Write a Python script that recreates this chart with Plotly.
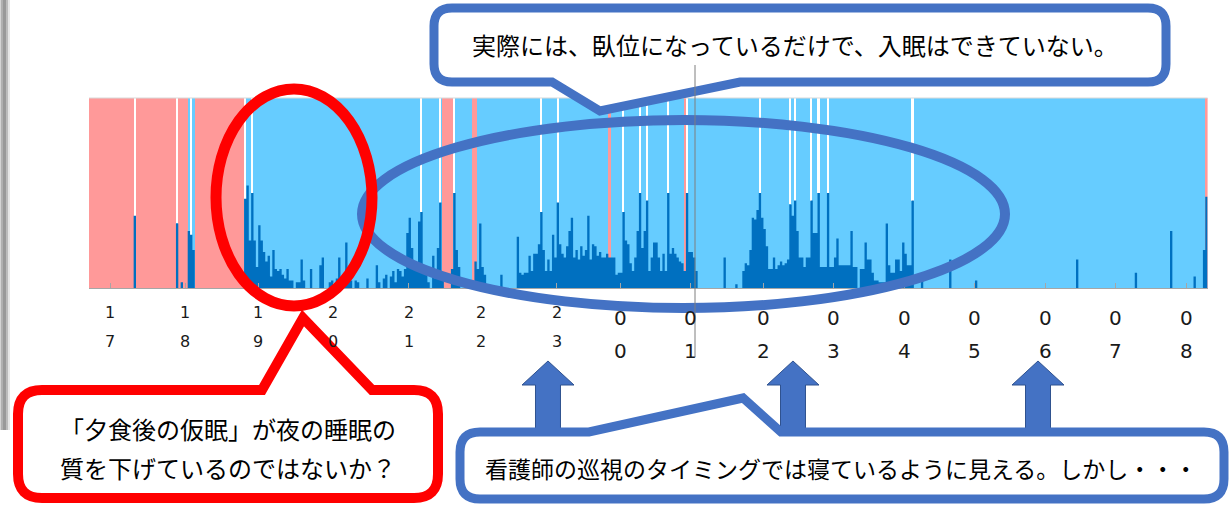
import plotly.graph_objects as go

W, H = 1229, 505
PLOT_L, PLOT_R, PLOT_T, PLOT_B = 89, 1207.6, 98, 288

PINK = "#FF9999"
BLUE = "#66CCFF"
DARK = "#0070C0"
CALL_BLUE = "#4472C4"
RED = "#FF0000"

hour_labels = ["17", "18", "19", "20", "21", "22", "23",
               "00", "01", "02", "03", "04", "05", "06", "07", "08"]

# activity per record (0-100 scale), one block per hour on the axis
act_pre = [0, 0, 0, 0, 0, 0, 0, 0, 0]
act_17 = [0, 0, 0, 0, 0, 0, 0, 0, 0, 0,
          38, 0, 0, 0, 0, 0, 0, 0, 0, 0,
          0, 0, 0, 0, 0, 0, 0, 0, 34, 0,
          3, 0]
act_18 = [0, 30, 28, 20, 0, 0, 0, 0, 0, 0,
          0, 0, 0, 0, 0, 0, 0, 0, 0, 0,
          0, 0, 0, 0, 0, 47, 54, 25, 50, 25,
          11]
act_19 = [33, 25, 19, 14, 17, 6, 20, 10, 9, 10,
          7, 5, 10, 4, 4, 0, 3, 3, 15, 4,
          0, 0, 10, 0, 0, 0, 12, 16, 0, 0,
          3, 4]
act_20 = [0, 5, 16, 0, 4, 24, 5, 4, 0, 4,
          3, 0, 0, 0, 5, 0, 0, 0, 12, 3,
          0, 5, 7, 0, 6, 9, 3, 10, 9, 6,
          10, 29]
act_21 = [37, 21, 14, 9, 35, 40, 12, 9, 3, 0,
          17, 5, 21, 45, 8, 0, 0, 0, 10, 50,
          20, 11, 0, 0, 0, 0, 0, 0, 14, 10,
          34]
act_22 = [11, 7, 0, 0, 0, 0, 0, 0, 7, 0,
          0, 0, 0, 0, 0, 27, 8, 7, 8, 8,
          17, 9, 18, 18, 23, 40, 20, 9, 15, 9,
          28, 16]
act_23 = [45, 23, 18, 16, 22, 30, 37, 16, 20, 15,
          22, 17, 20, 38, 15, 23, 22, 17, 19, 16,
          16, 18, 16, 16, 16, 7, 8]
act_00 = [8, 40, 25, 23, 13, 9, 16, 30, 50, 21,
          30, 46, 9, 16, 24, 24, 16, 9, 18, 9,
          50, 18, 21, 18, 16, 14, 13, 9, 50, 19]
act_01 = [19, 16, 9, 0, 0, 0, 0, 0, 0, 0,
          0, 0, 0, 0, 16, 0, 0, 0, 0, 2,
          0, 0, 9, 13, 12, 20, 37, 36, 41, 50,
          37]
act_02 = [31, 22, 10, 10, 16, 10, 12, 14, 12, 13,
          15, 44, 38, 46, 30, 16, 16, 11, 16, 16,
          46, 29, 29, 50, 11, 11, 11, 50, 11, 11]
act_03 = [16, 26, 12, 12, 12, 12, 12, 30, 11, 11,
          0, 10, 10, 24, 15, 15, 8, 4, 4, 3,
          3, 3, 34, 12, 8, 8, 15, 15, 9, 24]
act_04 = [18, 12, 12, 46, 0, 0, 0, 8, 0, 0,
          0, 0, 0, 0, 0, 0, 0, 0, 0, 15,
          0, 0, 0, 0, 0, 0, 0, 0, 0, 0]
act_05 = [4, 0, 0, 0, 0, 0, 0, 0, 0, 0,
          0, 0, 0, 0, 0, 0, 0, 0, 0, 0,
          0, 0, 0, 0, 0, 0, 0, 0, 0, 0]
act_06 = [0, 0, 0, 0, 0, 0, 0, 0, 0, 0,
          0, 0, 0, 15, 0, 0, 0, 0, 0, 0,
          0, 0, 0, 0, 0, 0, 0, 0, 0, 0]
act_07 = [0, 0, 0, 0, 0, 0, 0, 0, 8, 0,
          0, 0, 0, 0, 0, 0, 0, 0, 0, 0,
          0, 0, 0, 30, 0, 0, 0, 0, 0, 0]
act_08 = [0, 0, 0, 6, 0, 0, 0, 20, 48]

# background state runs: P = out of bed (pink), B = in bed (blue)
state_runs = [("P", 19), ("B", 1), ("P", 17), ("B", 1), ("P", 4), ("B", 3),
              ("P", 21), ("B", 84), ("P", 5), ("B", 8), ("P", 2), ("B", 56),
              ("P", 1), ("B", 31), ("P", 1), ("B", 221), ("P", 1)]

# records marked with a white line above the activity bar
white_bins = [19, 37, 43, 66, 69, 141, 149, 155, 192, 199, 227, 234, 237,
              246, 254, 285, 298, 300, 307, 310, 314, 350]

blocks = [act_17, act_18, act_19, act_20, act_21, act_22, act_23, act_00,
          act_01, act_02, act_03, act_04, act_05, act_06, act_07, act_08]
activity = list(act_pre)
tick_pos = []
for b in blocks:
    tick_pos.append(len(activity) - 0.5)
    activity += b
n = len(activity)


def P(x, y):
    return f"{x / W:.5f},{1 - y / H:.5f}"


def callout(x0, y0, x1, y1, r, tl, tip, tr, where):
    s = [f"M{P(x0 + r, y0)}"]
    if where == "top":
        s += [f"L{P(tl, y0)}", f"L{P(*tip)}", f"L{P(tr, y0)}"]
    s += [f"L{P(x1 - r, y0)}", f"Q{P(x1, y0)} {P(x1, y0 + r)}",
          f"L{P(x1, y1 - r)}", f"Q{P(x1, y1)} {P(x1 - r, y1)}"]
    if where == "bottom":
        s += [f"L{P(tr, y1)}", f"L{P(*tip)}", f"L{P(tl, y1)}"]
    s += [f"L{P(x0 + r, y1)}", f"Q{P(x0, y1)} {P(x0, y1 - r)}",
          f"L{P(x0, y0 + r)}", f"Q{P(x0, y0)} {P(x0 + r, y0)}", "Z"]
    return " ".join(s)


def up_arrow(cx, tip_y, head_y, bottom, hw, sw):
    pts = [(cx, tip_y), (cx + hw, head_y), (cx + sw, head_y), (cx + sw, bottom),
           (cx - sw, bottom), (cx - sw, head_y), (cx - hw, head_y)]
    return "M" + " L".join(P(*p) for p in pts) + " Z"


def ellipse(x0, y0, x1, y1, color, width):
    return dict(type="circle", xref="paper", yref="paper",
                x0=x0 / W, x1=x1 / W, y0=1 - y1 / H, y1=1 - y0 / H,
                line=dict(color=color, width=width), layer="above")


fig = go.Figure()

bg_x, bg_w, bg_c = [], [], []
start = 0
for s, k in state_runs:
    bg_x.append(start + k / 2 - 0.5)
    bg_w.append(k)
    bg_c.append(PINK if s == "P" else BLUE)
    start += k
fig.add_trace(go.Bar(x=bg_x, y=[100] * len(bg_x), width=bg_w,
                     marker=dict(color=bg_c, line=dict(width=0)), hoverinfo="skip"))

fig.add_trace(go.Bar(x=white_bins, y=[100 - activity[i] for i in white_bins],
                     base=[activity[i] for i in white_bins], width=0.7,
                     marker=dict(color="white", line=dict(width=0)), hoverinfo="skip"))

edges = [i - 0.5 for i in range(n + 1)]
fig.add_trace(go.Scatter(x=edges, y=activity + [activity[-1]], mode="lines",
                         line=dict(width=0, color=DARK, shape="hv"),
                         fill="tozeroy", fillcolor=DARK, hoverinfo="skip"))

shapes = []
# slide edge shadow on the left
for x0, x1, c in [(0, 1, "#d4d4d4"), (1, 3, "#b0b0b0"), (3, 6, "#999999"),
                  (6, 8, "#bcbcbc"), (8, 10, "#e6e6e6")]:
    shapes.append(dict(type="rect", xref="paper", yref="paper",
                       x0=x0 / W, x1=x1 / W, y0=1 - 430 / H, y1=1,
                       fillcolor=c, line=dict(width=0), layer="above"))
# plot top border
shapes.append(dict(type="line", xref="paper", yref="paper",
                   x0=PLOT_L / W, x1=PLOT_R / W, y0=1 - PLOT_T / H, y1=1 - PLOT_T / H,
                   line=dict(color="#D9D9D9", width=1), layer="above"))
shapes.append(ellipse(362, 120, 1005, 308, CALL_BLUE, 10))
shapes.append(dict(type="path", xref="paper", yref="paper",
                   path=callout(18, 390, 438, 498, 24, 262, (303, 318), 372, "top"),
                   fillcolor="white", line=dict(color=RED, width=10), layer="above"))
shapes.append(ellipse(216, 89, 372, 306, RED, 11))
shapes.append(dict(type="path", xref="paper", yref="paper",
                   path=callout(434, 8, 1166, 82, 18, 552, (600, 111), 740, "bottom"),
                   fillcolor="white", line=dict(color=CALL_BLUE, width=9), layer="above"))
for cx in (548, 793, 1038):
    shapes.append(dict(type="path", xref="paper", yref="paper",
                       path=up_arrow(cx, 361, 385, 440, 26, 12.5),
                       fillcolor=CALL_BLUE, line=dict(color="#2F528F", width=1),
                       layer="above"))
shapes.append(dict(type="path", xref="paper", yref="paper",
                   path=callout(460, 432, 1224, 499, 20, 589, (743, 398), 781, "top"),
                   fillcolor="white", line=dict(color=CALL_BLUE, width=9), layer="above"))
shapes.append(dict(type="line", xref="paper", yref="paper",
                   x0=695 / W, x1=695 / W, y0=1 - 357 / H, y1=1 - 65 / H,
                   line=dict(color="#7f7f7f", width=1), layer="above"))

JP = "Noto Sans CJK JP"


def note(text, x, y, size):
    return dict(text=text, x=x / W, y=1 - y / H, xref="paper", yref="paper",
                showarrow=False, xanchor="center", yanchor="middle",
                font=dict(family=JP, size=size, color="#000000"))


annotations = [
    note("実際には、臥位になっているだけで、入眠はできていない。", 795, 45, 24),
    note("「夕食後の仮眠」が夜の睡眠の", 228, 428, 24),
    note("質を下げているのではないか？", 228, 467, 24),
    note("看護師の巡視のタイミングでは寝ているように見える。しかし・・・", 841, 468, 23),
]

# stacked-digit hour labels under the axis
for i, lab in enumerate(hour_labels):
    evening = i < 7
    top_py, bot_py, size = (312, 341, 16) if evening else (318, 351, 20)
    for ch, py in zip(lab, (top_py, bot_py)):
        annotations.append(dict(text=ch, x=tick_pos[i], xref="x",
                                y=1 - py / H, yref="paper", showarrow=False,
                                xanchor="center", yanchor="middle",
                                font=dict(family="DejaVu Sans", size=size, color="#1a1a1a")))

fig.update_layout(
    width=W, height=H,
    margin=dict(l=0, r=0, t=0, b=0, pad=0, autoexpand=False),
    paper_bgcolor="white", plot_bgcolor="white",
    showlegend=False, barmode="overlay", bargap=0,
    xaxis=dict(domain=[PLOT_L / W, PLOT_R / W], range=[-0.5, n - 0.5],
               showgrid=False, zeroline=False, showline=True,
               linecolor="#A6A6A6", linewidth=1, ticks="inside", ticklen=5,
               tickcolor="#A6A6A6", tickvals=tick_pos, showticklabels=False),
    yaxis=dict(domain=[1 - PLOT_B / H, 1 - PLOT_T / H], range=[0, 100], visible=False),
    shapes=shapes,
    annotations=annotations,
)

fig.write_html("out.html", config={"displayModeBar": False},
               post_script="document.body.style.margin='0';document.body.style.overflow='hidden';")
